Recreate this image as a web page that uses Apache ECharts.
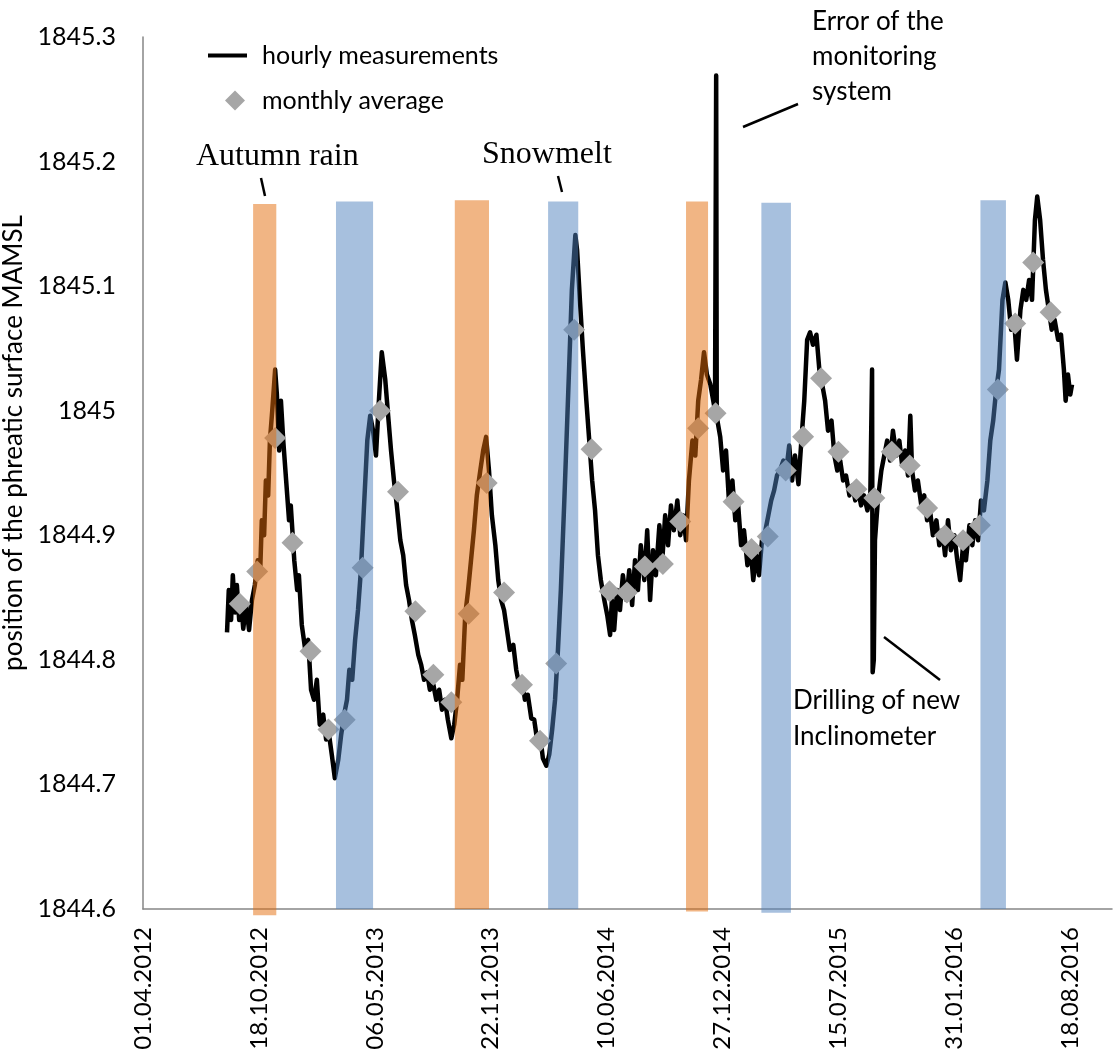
<!DOCTYPE html>
<html><head><meta charset="utf-8">
<script src="https://cdn.jsdelivr.net/npm/echarts@6/dist/echarts.min.js"></script>
<style>html,body{margin:0;padding:0;background:#fff}#c{width:1119px;height:1053px}</style>
</head><body><div id="c"></div>
<script>
// ---------- DATA (x values are Excel date serials: 41000 = 01.04.2012) ----------
const xAxisStart = 41000;      // 01.04.2012
const xAxisEnd = 42672;
const xTickStep = 200;          // days between date labels
const yMin = 1844.6, yMax = 1845.3, yStep = 0.1;

const hourlySerial = [
41145,41148,41152,41155,41159,41162,41166,41169,41173,41178,41183,41188,41193,41198,41202,41205,41209,41212,41216,41219,
41223,41228,41231,41235,41238,41242,41247,41252,41255,41261,41266,41269,41274,41280,41285,41290,41295,41300,41305,41311,
41316,41321,41326,41331,41337,41342,41347,41352,41356,41361,41366,41371,41376,41381,41387,41392,41397,41402,41407,41412,
41418,41423,41428,41433,41438,41444,41449,41454,41459,41464,41469,41475,41480,41485,41490,41495,41501,41506,41511,41516,
41521,41526,41532,41537,41542,41547,41551,41556,41561,41566,41571,41576,41582,41587,41592,41597,41602,41608,41613,41618,
41623,41628,41633,41639,41644,41649,41654,41659,41664,41670,41675,41680,41685,41690,41696,41701,41706,41711,41716,41721,
41727,41732,41737,41740,41746,41749,41754,41759,41765,41770,41775,41780,41785,41790,41796,41801,41806,41809,41813,41818,
41823,41828,41834,41839,41844,41849,41854,41859,41865,41870,41875,41880,41885,41891,41896,41901,41906,41911,41916,41922,
41927,41932,41937,41942,41948,41953,41958,41963,41968,41973,41979,41984,41987,41989,41990,41996,42001,42006,42011,42017,
42022,42027,42032,42037,42043,42048,42053,42058,42063,42068,42074,42079,42084,42089,42094,42099,42105,42110,42115,42120,
42125,42131,42136,42141,42146,42151,42156,42162,42167,42172,42177,42182,42188,42193,42198,42203,42208,42213,42219,42224,
42229,42234,42239,42244,42250,42255,42258,42259,42261,42263,42268,42274,42279,42284,42289,42294,42300,42305,42310,42315,
42320,42324,42327,42332,42337,42343,42348,42353,42358,42363,42369,42374,42379,42384,42389,42394,42400,42405,42410,42415,
42420,42426,42431,42436,42441,42446,42451,42457,42462,42467,42472,42477,42483,42488,42493,42498,42503,42508,42514,42519,
42524,42529,42534,42539,42543,42548,42553,42558,42563,42568,42573,42579,42584,42589,42592,42596,42600,42603
];
const hourlyLevel = [
1844.822,1844.856,1844.832,1844.868,1844.838,1844.860,1844.832,1844.848,1844.825,1844.844,1844.824,1844.848,1844.860,1844.880,1844.868,1844.912,1844.900,1844.944,1844.932,1844.976,
1845.000,1845.033,1845.013,1844.968,1845.008,1844.976,1844.944,1844.912,1844.924,1844.880,1844.856,1844.868,1844.828,1844.808,1844.816,1844.776,1844.768,1844.784,1844.748,1844.756,
1844.736,1844.740,1844.723,1844.705,1844.720,1844.740,1844.756,1844.768,1844.792,1844.784,1844.816,1844.840,1844.872,1844.920,1844.976,1844.996,1844.984,1844.964,1845.008,1845.047,
1845.025,1844.996,1844.968,1844.944,1844.924,1844.896,1844.884,1844.860,1844.848,1844.832,1844.820,1844.804,1844.796,1844.784,1844.790,1844.776,1844.780,1844.768,1844.776,1844.760,
1844.768,1844.752,1844.737,1844.748,1844.768,1844.796,1844.784,1844.836,1844.856,1844.880,1844.904,1844.932,1844.952,1844.968,1844.979,1844.952,1844.916,1844.892,1844.864,1844.848,
1844.840,1844.824,1844.808,1844.812,1844.792,1844.780,1844.784,1844.768,1844.772,1844.753,1844.752,1844.736,1844.740,1844.721,1844.715,1844.724,1844.744,1844.768,1844.808,1844.856,
1844.928,1844.992,1845.057,1845.097,1845.141,1845.129,1845.088,1845.049,1845.008,1844.976,1844.944,1844.920,1844.884,1844.864,1844.848,1844.836,1844.820,1844.848,1844.824,1844.856,
1844.840,1844.868,1844.848,1844.872,1844.844,1844.880,1844.856,1844.892,1844.864,1844.904,1844.848,1844.888,1844.868,1844.908,1844.880,1844.916,1844.892,1844.924,1844.904,1844.928,
1844.900,1844.916,1844.896,1844.944,1844.976,1844.964,1845.008,1845.025,1845.047,1845.029,1845.021,1845.008,1845.000,1845.269,1844.995,1844.979,1844.952,1844.968,1844.928,1844.944,
1844.912,1844.924,1844.892,1844.904,1844.876,1844.892,1844.864,1844.884,1844.868,1844.896,1844.904,1844.916,1844.928,1844.936,1844.948,1844.952,1844.960,1844.952,1844.972,1844.944,
1844.964,1844.941,1844.976,1845.008,1845.057,1845.063,1845.053,1845.061,1845.033,1845.021,1845.008,1844.984,1844.992,1844.964,1844.952,1844.960,1844.944,1844.948,1844.932,1844.940,
1844.928,1844.936,1844.924,1844.932,1844.920,1844.932,1845.033,1844.790,1844.800,1844.896,1844.928,1844.952,1844.964,1844.976,1844.960,1844.984,1844.964,1844.976,1844.956,1844.968,
1844.948,1844.996,1844.952,1844.936,1844.944,1844.924,1844.932,1844.912,1844.920,1844.900,1844.912,1844.892,1844.904,1844.884,1844.912,1844.888,1844.900,1844.880,1844.864,1844.892,
1844.880,1844.908,1844.892,1844.912,1844.896,1844.928,1844.920,1844.944,1844.976,1844.992,1845.016,1845.033,1845.089,1845.103,1845.089,1845.065,1845.073,1845.041,1845.081,1845.097,
1845.089,1845.105,1845.089,1845.153,1845.172,1845.153,1845.121,1845.097,1845.081,1845.065,1845.073,1845.057,1845.061,1845.033,1845.008,1845.029,1845.013,1845.021
];

const monthlyDates = [
'2012-09-15','2012-10-15','2012-11-15','2012-12-15',
'2013-01-15','2013-02-15','2013-03-15','2013-04-15','2013-05-15','2013-06-15','2013-07-15','2013-08-15','2013-09-15','2013-10-15','2013-11-15','2013-12-15',
'2014-01-15','2014-02-15','2014-03-15','2014-04-15','2014-05-15','2014-06-15','2014-07-15','2014-08-15','2014-09-15','2014-10-15','2014-11-15','2014-12-15',
'2015-01-15','2015-02-15','2015-03-15','2015-04-15','2015-05-15','2015-06-15','2015-07-15','2015-08-15','2015-09-15','2015-10-15','2015-11-15','2015-12-15',
'2016-01-15','2016-02-15','2016-03-15','2016-04-15','2016-05-15','2016-06-15','2016-07-15'
];
const monthlyAverage = [
1844.845,1844.871,1844.978,1844.894,
1844.807,1844.744,1844.752,1844.874,1845.000,1844.935,1844.839,1844.788,1844.766,1844.837,1844.942,1844.854,
1844.780,1844.735,1844.797,1845.065,1844.969,1844.855,1844.854,1844.875,1844.877,1844.911,1844.986,1844.998,
1844.927,1844.889,1844.899,1844.952,1844.979,1845.026,1844.967,1844.937,1844.930,1844.967,1844.956,1844.922,
1844.900,1844.896,1844.908,1845.017,1845.070,1845.119,1845.079
];

// shaded periods (Excel serials): autumn rain / snowmelt
const periodKind   = ['rain','snow','rain','snow','rain','snow','snow'];
const periodStart  = [41190,41333,41538,41699,41937,42067,42445];
const periodEnd    = [41230,41397,41597,41751,41975,42118,42489];
const periodTop    = [1845.166,1845.168,1845.169,1845.168,1845.168,1845.167,1845.169];
const periodBottom = [1844.595,1844.600,1844.600,1844.600,1844.598,1844.597,1844.600];

// ---------- helpers ----------
function dateToSerial(s){ const p=s.split('-'); return 25569 + Date.UTC(+p[0], +p[1]-1, +p[2]) / 864e5; }
function serialToLabel(v){
  const d = new Date(Math.round((v - 25569) * 864e5));
  const dd = String(d.getUTCDate()).padStart(2,'0'), mm = String(d.getUTCMonth()+1).padStart(2,'0');
  return dd + '.' + mm + '.' + d.getUTCFullYear();
}

const FONT = 'Lato';
const lineData = hourlySerial.map((s,i)=>[s, hourlyLevel[i]]);
const monthData = monthlyDates.map((d,i)=>[dateToSerial(d), monthlyAverage[i]]);
const periodData = periodStart.map((s,i)=>[s, periodEnd[i], periodTop[i], periodBottom[i]]);
const FILL = { rain: 'rgba(228,108,10,0.5)', snow: 'rgba(79,129,189,0.5)' };

const chart = echarts.init(document.getElementById('c'), null, {renderer:'canvas'});
chart.setOption({
  animation: false,
  backgroundColor: '#fff',
  grid: { left: 143, right: 7, top: 37, bottom: 144, containLabel: false, outerBoundsMode: 'none' },
  legend: [
    { orient: 'vertical', left: 203, top: 38, itemWidth: 39, itemHeight: 16, symbolKeepAspect: true,
      data: [{ name: 'hourly measurements', icon: 'path://M0,0 H40 V4 H0 Z', itemStyle: { color: '#000' } }],
      textStyle: { fontFamily: FONT, fontSize: 25, color: '#000', padding: [0,0,0,10] } },
    { orient: 'vertical', left: 220, top: 83, itemWidth: 20, itemHeight: 20, symbolKeepAspect: true,
      data: [{ name: 'monthly average', icon: 'diamond', itemStyle: { color: '#A6A6A6' } }],
      textStyle: { fontFamily: FONT, fontSize: 25, color: '#000', padding: [0,0,0,12] } }
  ],
  xAxis: {
    type: 'value', min: xAxisStart, max: xAxisEnd, interval: xTickStep,
    axisLine: { show: true, lineStyle: { color: '#868686', width: 1.5 } },
    axisTick: { show: false }, splitLine: { show: false },
    axisLabel: { rotate: 90, margin: 18, formatter: serialToLabel, showMaxLabel: false,
      fontFamily: FONT, fontSize: 24, color: '#000' }
  },
  yAxis: {
    type: 'value', min: yMin, max: yMax, interval: yStep,
    name: 'position of the phreatic surface MAMSL', nameLocation: 'middle', nameGap: 112,
    nameTextStyle: { fontFamily: FONT, fontSize: 26, color: '#000', padding: [0,0,0,60] },
    axisLine: { show: true, lineStyle: { color: '#868686', width: 1.5 } },
    axisTick: { show: false }, splitLine: { show: false },
    axisLabel: { margin: 27, fontFamily: FONT, fontSize: 25, color: '#000',
      formatter: function(v){ return String(Math.round(v * 10) / 10); } }
  },
  series: [
    { name: 'hourly measurements', type: 'line', data: lineData, showSymbol: false, symbol: 'none',
      color: '#000', lineStyle: { color: '#000', width: 4.5, join: 'round' }, z: 2 },
    { name: 'monthly average', type: 'scatter', data: monthData, symbol: 'diamond', symbolSize: 22,
      itemStyle: { color: '#A6A6A6', opacity: 1 }, z: 3 },
    { name: 'periods', type: 'custom', data: periodData, clip: false, z: 5,
      encode: { x: [0,1], y: [2,3] },
      renderItem: function(params, api){
        const p1 = api.coord([api.value(0), api.value(2)]);
        const p2 = api.coord([api.value(1), api.value(3)]);
        return { type: 'rect', shape: { x: p1[0], y: p1[1], width: p2[0]-p1[0], height: p2[1]-p1[1] },
          style: { fill: FILL[periodKind[params.dataIndex]] } };
      } }
  ],
  graphic: [
    { type: 'text', z: 10, style: { x: 196, y: 157, text: 'Autumn rain', font: '32px "Liberation Serif"', fill: '#000', verticalAlign: 'middle' } },
    { type: 'line', z: 10, shape: { x1: 261, y1: 178, x2: 265, y2: 196 }, style: { stroke: '#000', lineWidth: 2.5 } },
    { type: 'text', z: 10, style: { x: 482, y: 155, text: 'Snowmelt', font: '32px "Liberation Serif"', fill: '#000', verticalAlign: 'middle' } },
    { type: 'line', z: 10, shape: { x1: 558, y1: 176, x2: 562, y2: 192 }, style: { stroke: '#000', lineWidth: 2.5 } },
    { type: 'text', z: 10, style: { x: 812, y: 4, text: 'Error of the\nmonitoring\nsystem', font: '26px Lato', lineHeight: 35, fill: '#000', verticalAlign: 'top' } },
    { type: 'line', z: 10, shape: { x1: 743, y1: 127, x2: 798, y2: 104 }, style: { stroke: '#000', lineWidth: 2.5 } },
    { type: 'text', z: 10, style: { x: 793, y: 683, text: 'Drilling of new\nInclinometer', font: '26px Lato', lineHeight: 36, fill: '#000', verticalAlign: 'top' } },
    { type: 'line', z: 10, shape: { x1: 884, y1: 637, x2: 940, y2: 680 }, style: { stroke: '#000', lineWidth: 2.5 } }
  ]
});
</script></body></html>
